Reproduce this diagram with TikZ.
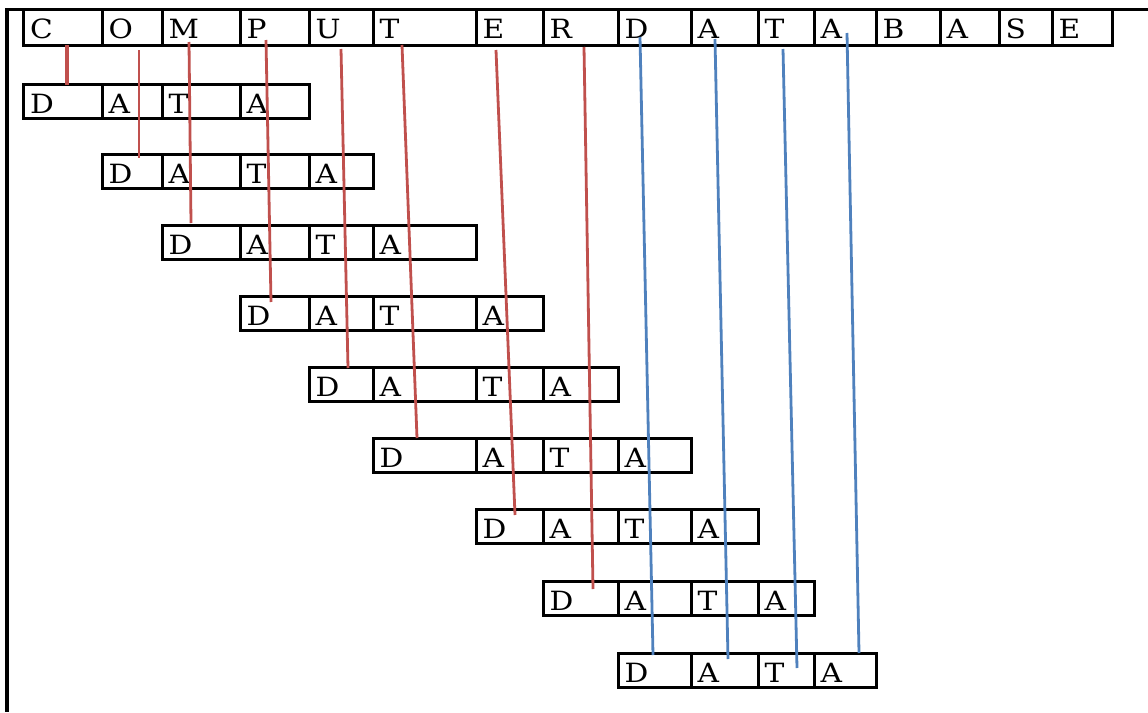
\documentclass[tikz,border=0pt]{standalone}
\usepackage{fontspec}
\setmainfont{DejaVu Serif}[FakeStretch=1.12]
\usetikzlibrary{calc}
\definecolor{linkred}{HTML}{C0504D}
\definecolor{linkblue}{HTML}{4F81BD}
\tikzset{
  cell/.style={draw=black, line width=3pt, anchor=north west, inner xsep=6.5pt,
    inner ysep=0pt, outer sep=0pt, text height=23pt, text depth=0pt,
    align=left, font=\fontsize{26.5}{26.5}\selectfont},
  frame/.style={draw=black, line width=3pt},
  redlink/.style={draw=linkred, line width=2.8pt},
  bluelink/.style={draw=linkblue, line width=2.8pt},
}
\begin{document}
\begin{tikzpicture}[x=1pt, y=-1pt]
  \useasboundingbox (0,0) rectangle (1148,712);
  % column boundaries shared by the word row and the DATA rows
  \def\xs{{23.5,102,162,240,309,373,476,543,618,691,758,814,876,940,999,1052,1112.5}}
  % top edges of the nine DATA rows
  \def\ys{{84.5,154.5,225.5,296.5,367.5,438.5,509.5,581.5,653.5}}

  % outer frame lines
  \coordinate (frameTL) at (5,9.5);
  \coordinate (frameTR) at (1148,9.5);
  \coordinate (frameBL) at (7,712);
  \draw[frame] (frameTL) -- (frameTR);
  \draw[frame, line width=4pt] (7,8) -- (frameBL);

  % the word row
  \foreach \l [count=\i] in {C,O,M,P,U,T,E,R,D,A,T,A,B,A,S,E} {
    \pgfmathsetmacro\a{\xs[\i-1]}
    \pgfmathsetmacro\b{\xs[\i]}
    \pgfmathsetmacro\tw{\b-\a-13}
    \node[cell, text width=\tw pt, minimum height=35.5pt] (t\i) at (\a,9.5) {\l};
  }

  % the nine DATA rows, each shifted by one column
  \foreach \k in {1,...,9} {
    \foreach \l [count=\j] in {D,A,T,A} {
      \pgfmathsetmacro\a{\xs[\k+\j-2]}
      \pgfmathsetmacro\b{\xs[\k+\j-1]}
      \pgfmathsetmacro\y{\ys[\k-1]}
      \pgfmathsetmacro\tw{\b-\a-13}
      \node[cell, text width=\tw pt, minimum height=34pt] (d\k\j) at (\a,\y) {\l};
    }
  }

  % links from the first eight letters to each row's D
  \draw[redlink, line width=4.5pt] ($(t1.south west)+(43.5,0)$) -- ($(d11.north west)+(43.5,0)$);
  \draw[redlink] ($(t2.south west)+(37,5)$)  -- ($(d21.north west)+(37,3.5)$);
  \draw[redlink] ($(t3.south west)+(27,-3)$) -- ($(d31.north west)+(29,-2.5)$);
  \draw[redlink] ($(t4.south west)+(26,-5)$) -- ($(d41.north west)+(31,5.5)$);
  \draw[redlink] ($(t5.south west)+(32,4)$)  -- ($(d51.north west)+(39,0.5)$);
  \draw[redlink] ($(t6.south west)+(29,0)$)  -- ($(d61.north west)+(44,-0.5)$);
  \draw[redlink] ($(t7.south west)+(20,5)$)  -- ($(d71.north west)+(39,5.5)$);
  \draw[redlink] ($(t8.south west)+(41,2)$)  -- ($(d81.north west)+(50,7.5)$);

  % links from the letters D, A, T, A to the last row
  \draw[bluelink] ($(t9.south west)+(22,-8)$)   -- ($(d91.north west)+(35,1.5)$);
  \draw[bluelink] ($(t10.south west)+(24,-6)$)  -- ($(d92.north west)+(37,5.5)$);
  \draw[bluelink] ($(t11.south west)+(25,4)$)   -- ($(d93.north west)+(39,14.5)$);
  \draw[bluelink] ($(t12.south west)+(33,-12)$) -- ($(d94.north west)+(45,-0.5)$);
\end{tikzpicture}
\end{document}
